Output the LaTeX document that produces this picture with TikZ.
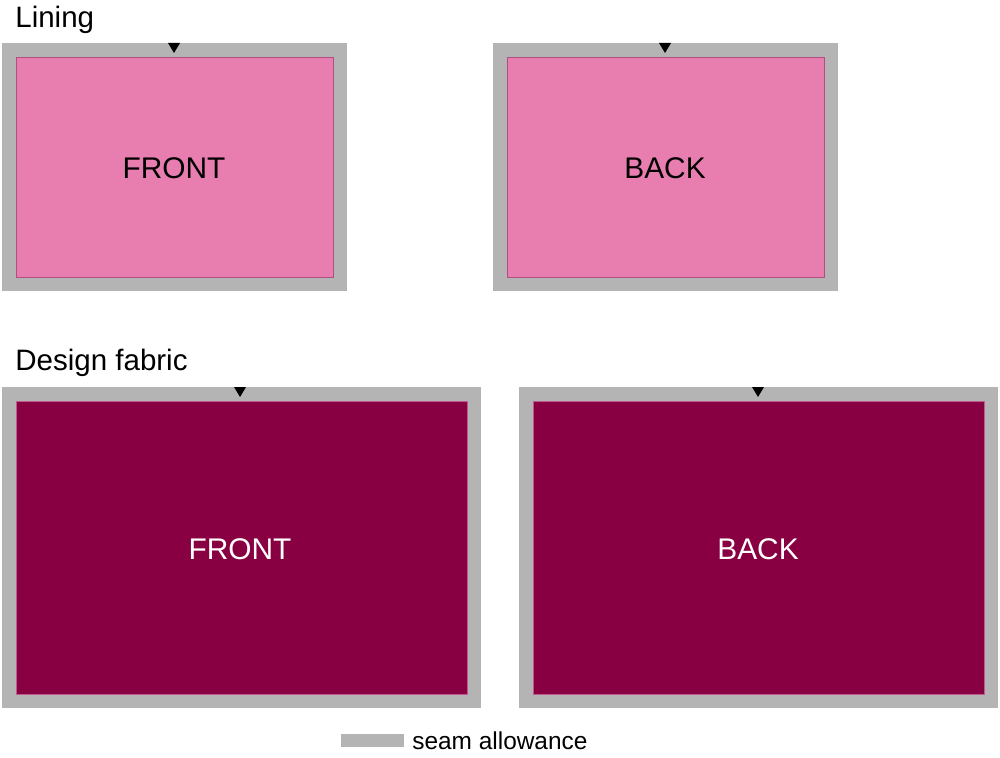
\documentclass[tikz,border=0pt]{standalone}
\usepackage{fontspec}
\setmainfont{Liberation Sans}
\usetikzlibrary{arrows, arrows.meta}
\definecolor{seam}{RGB}{180,180,180}
\definecolor{lining}{RGB}{232,125,176}
\definecolor{liningedge}{RGB}{176,80,130}
\definecolor{design}{RGB}{137,0,66}
\definecolor{designedge}{RGB}{190,90,140}

\begin{document}
\begin{tikzpicture}[x=0.02cm,y=-0.02cm]
\tikzset{allowance/.style={fill=seam,draw=none},
  liningpiece/.style={fill=lining,draw=liningedge,line width=0.4pt},
  designpiece/.style={fill=design,draw=designedge,line width=0.4pt},
  notch/.style={fill=black,draw=none}}
\useasboundingbox (0,0) rectangle (1000,757);
%\draw[step=50,gray,very thin] (0,0) grid (1000,757); %background grid
% Lining
\node[anchor=west,inner sep=0pt,font=\fontsize{16.8}{20}\selectfont] (lining) at (15,20){Lining};
\fill[allowance](2,43) rectangle (347,291);   %front
\fill[allowance](493,43) rectangle (838,291); %back
\draw[liningpiece](16,57) rectangle (333,277);
\draw[liningpiece](507,57) rectangle (824,277);
\fill[notch](168,43) -- (180,43) -- (174,53) -- cycle; %notch
\fill[notch](659,43) -- (671,43) -- (665,53) -- cycle; %notch
\node[font=\fontsize{17}{20}\selectfont] (liningfront) at (174,168){FRONT};
\node[font=\fontsize{17}{20}\selectfont] (liningback) at (665,168){BACK};
% Design fabric
\node[anchor=west,inner sep=0pt,font=\fontsize{16.8}{20}\selectfont] (design) at (15,363){Design fabric};
\fill[allowance](2,387) rectangle (481,708);   %front
\fill[allowance](519,387) rectangle (998,708); %back
\draw[designpiece](16,401) rectangle (467,694);
\draw[designpiece](533,401) rectangle (984,694);
\fill[notch](234,387) -- (246,387) -- (240,397) -- cycle; %notch
\fill[notch](752,387) -- (764,387) -- (758,397) -- cycle; %notch
\node[white,font=\fontsize{17}{20}\selectfont] (designfront) at (240,549){FRONT};
\node[white,font=\fontsize{17}{20}\selectfont] (designback) at (758,549){BACK};
% legend
\fill[allowance](341,734) rectangle (404,747);
\node[anchor=west,inner sep=0pt,font=\fontsize{13.9}{16}\selectfont] (seamlabel) at (412,741){seam allowance};
\end{tikzpicture}
\end{document}
